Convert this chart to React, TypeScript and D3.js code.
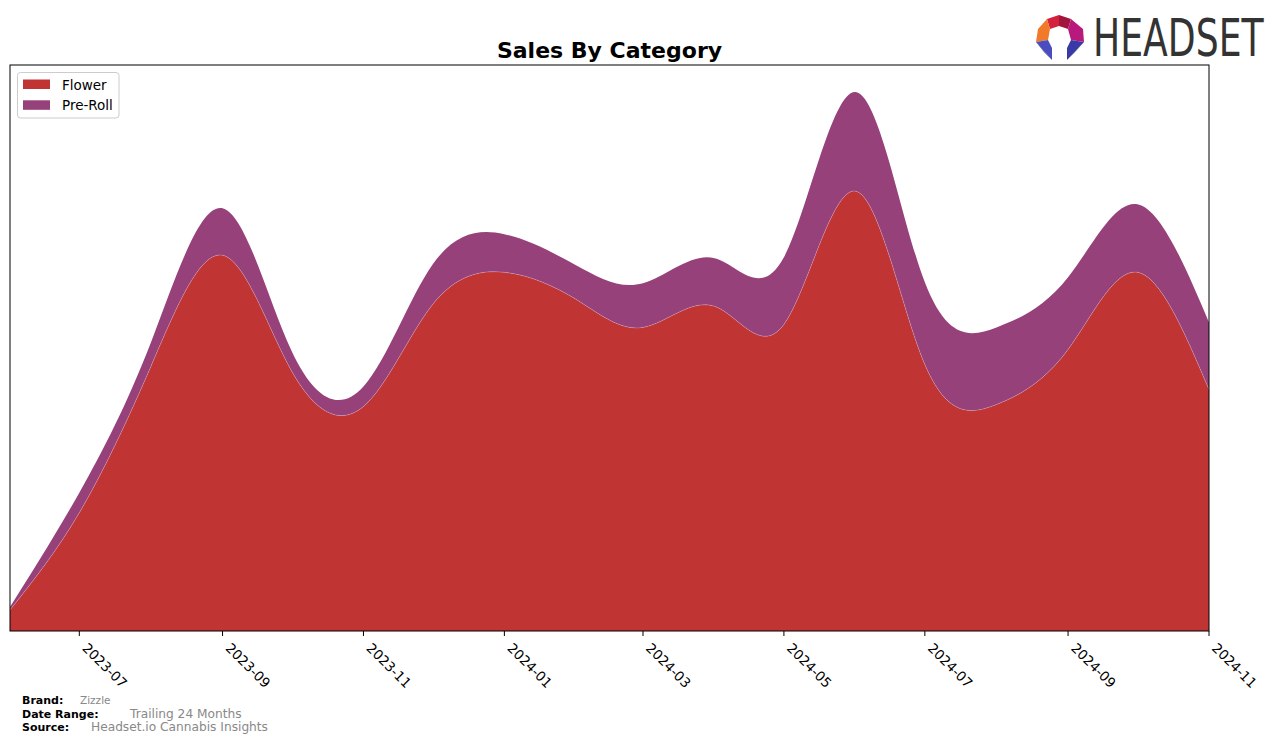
import React from "react";
import * as d3 from "d3";

const months: string[] = [
  "2023-06", "2023-07", "2023-08", "2023-09", "2023-10", "2023-11",
  "2023-12", "2024-01", "2024-02", "2024-03", "2024-04", "2024-05",
  "2024-06", "2024-07", "2024-08", "2024-09", "2024-10", "2024-11",
];
const flower: number[] = [2100, 11800, 26400, 37500, 25900, 22400, 32600, 35800, 33100, 30300, 32400, 30600, 43900, 26600, 22600, 28100, 35800, 24100];
const preRoll: number[] = [300, 2000, 2400, 4700, 2000, 2000, 4000, 3800, 3400, 4400, 4800, 6700, 9900, 8200, 7700, 7200, 6800, 6700];
const seriesNames: string[] = ["Flower", "Pre-Roll"];
const seriesColors: string[] = ["#c03434", "#97417a"];
const tickLabels: string[] = ["2023-07", "2023-09", "2023-11", "2024-01", "2024-03", "2024-05", "2024-07", "2024-09", "2024-11"];

const W = 1276, H = 743;
const M = { left: 10, right: 1209, top: 65, bottom: 631 };
const FONT = "'DejaVu Sans', sans-serif";

export default function App() {
  const parse = d3.timeParse("%Y-%m");
  const rows = months.map((m, i) => ({ date: parse(m) as Date, Flower: flower[i], "Pre-Roll": preRoll[i] }));
  const stack = d3.stack<any>().keys(seriesNames);
  const layers = stack(rows);
  const maxTotal = d3.max(rows, (r) => r.Flower + r["Pre-Roll"]) as number;

  const x = d3.scaleTime().domain([rows[0].date, rows[rows.length - 1].date]).range([M.left, M.right]);
  const y = d3.scaleLinear().domain([0, maxTotal * 1.05]).range([M.bottom, M.top]);

  const area = d3.area<any>()
    .x((d) => x(d.data.date))
    .y0((d) => y(d[0]))
    .y1((d) => y(d[1]))
    .curve(d3.curveNatural);
  const line = d3.line<any>()
    .x((d) => x(d.data.date))
    .y((d) => y(d[1]))
    .curve(d3.curveNatural);

  const ticks = tickLabels.map((t) => ({ label: t, x: x(parse(t) as Date) }));

  return (
    <svg width={W} height={H} style={{ position: "absolute", left: 0, top: 0, background: "#fff" }} fontFamily={FONT}>
      <rect x={0} y={0} width={W} height={H} fill="#fff" />
      <defs>
        <clipPath id="plotclip">
          <rect x={M.left} y={M.top} width={M.right - M.left} height={M.bottom - M.top} />
        </clipPath>
      </defs>
      <g clipPath="url(#plotclip)">
        {layers.map((layer, i) => (
          <path key={seriesNames[i]} d={area(layer) as string} fill={seriesColors[i]} />
        ))}
        <path d={line(layers[0]) as string} fill="none" stroke="#ffffff" strokeOpacity={0.35} strokeWidth={0.6} />
      </g>
      <rect x={M.left} y={M.top} width={M.right - M.left} height={M.bottom - M.top} fill="none" stroke="#000" strokeWidth={1} />
      {ticks.map((t) => (
        <g key={t.label}>
          <line x1={t.x} x2={t.x} y1={M.bottom} y2={M.bottom + 5} stroke="#000" strokeWidth={1} />
          <text
            transform={`translate(${t.x + 9},${M.bottom + 11}) rotate(45)`}
            fontSize={13.5}
            dy="0.72em"
            fill="#000"
          >
            {t.label}
          </text>
        </g>
      ))}
      <text x={(M.left + M.right) / 2} y={58} textAnchor="middle" fontSize={22} fontWeight="bold" fill="#000">
        Sales By Category
      </text>
      <g>
        <rect x={17.5} y={72.5} width={101.5} height={45.5} rx={3} fill="#fff" fillOpacity={0.8} stroke="#cccccc" strokeWidth={1} />
        {seriesNames.map((n, i) => (
          <g key={n}>
            <rect x={23} y={79.5 + i * 20.8} width={27} height={9.5} fill={seriesColors[i]} />
            <text x={62} y={89.5 + i * 20.8} fontSize={13.5} fill="#000">{n}</text>
          </g>
        ))}
      </g>
      <g fontSize={11}>
        <text x={22} y={704} fontWeight="bold" fill="#000">Brand:</text>
        <text x={80} y={704} fill="#888" fontSize={10.5}>Zizzle</text>
        <text x={22} y={718} fontWeight="bold" fill="#000">Date Range:</text>
        <text x={130} y={718} fill="#888" fontSize={12.2}>Trailing 24 Months</text>
        <text x={22} y={731} fontWeight="bold" fill="#000">Source:</text>
        <text x={91} y={731} fill="#888" fontSize={12.2}>Headset.io Cannabis Insights</text>
      </g>
      <g>
        <polygon points="1047,19 1059,15 1059,26 1050,29" fill="#d4213d" />
        <polygon points="1059,15 1071,19 1068,29 1059,26" fill="#a3163c" />
        <polygon points="1047,19 1050,29 1048,40 1036,42 1038,29" fill="#f07a2a" />
        <polygon points="1071,19 1083,29 1084,42 1071,40 1068,29" fill="#b8197c" />
        <polygon points="1036,42 1048,40 1052,48 1052,60" fill="#4a4cc0" />
        <polygon points="1036,42 1052,60 1044,52" fill="#2c2d86" />
        <polygon points="1084,42 1071,40 1067,48 1067,60" fill="#3a3aa6" />
        <polygon points="1084,42 1067,60 1075,52" fill="#26276f" />
        <text transform="translate(1093,56) scale(0.71,1)" fontSize={51} fill="#333" fontFamily="'DejaVu Sans', sans-serif">
          HEADSET
        </text>
      </g>
    </svg>
  );
}
